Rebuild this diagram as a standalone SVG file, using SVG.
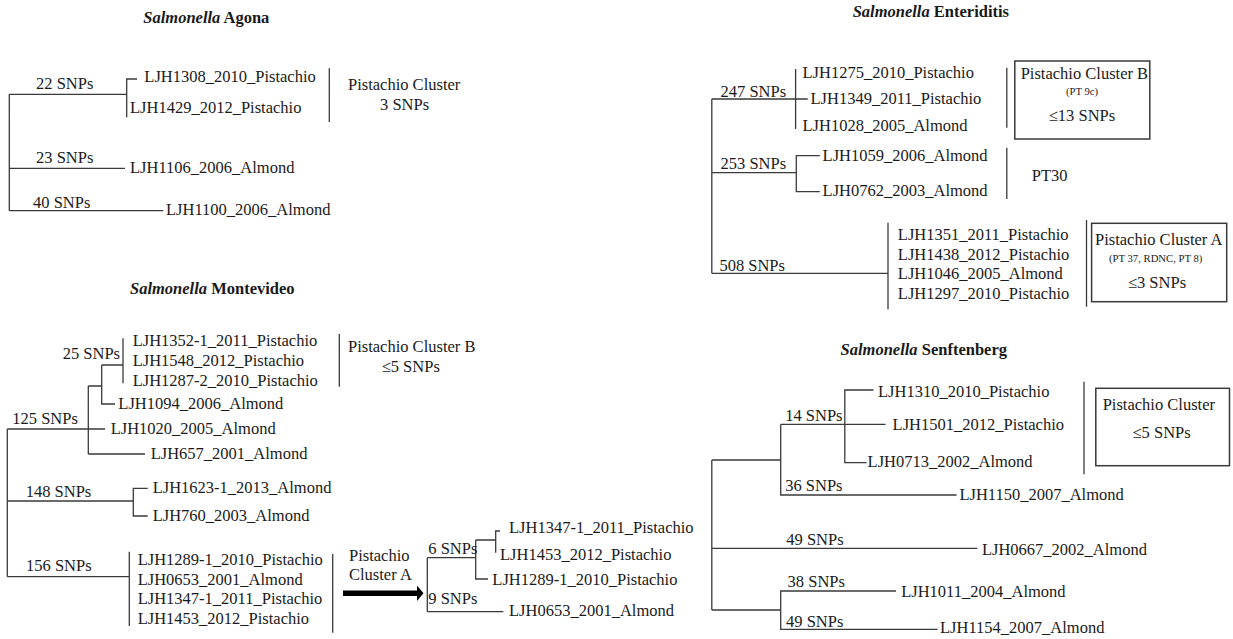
<svg xmlns="http://www.w3.org/2000/svg" width="1233" height="639" viewBox="0 0 1233 639">
<style>
.t{font-family:"Liberation Serif","Times New Roman",serif;font-size:16.5px;fill:#1a1a1a}
.b{font-weight:bold}
.i{font-style:italic}
.sm{font-size:10.7px}
.m{text-anchor:middle}
.ln{stroke:#3a3a3a;stroke-width:1.3;fill:none}
.box{fill:none;stroke:#3a3a3a;stroke-width:1.5}
</style>
<rect width="1233" height="639" fill="#ffffff"/>

<g id="connectors">
  <!-- Agona -->
  <path class="ln" d="M9.3,94.3 V210.7 M9.3,94.3 H126.7 M137,79 H126.7 V117.3 M9.3,168.3 H125 M9.3,210.7 H163.3"/>
  <path class="ln" d="M329.3,68.3 V122"/>
  <!-- Montevideo -->
  <path class="ln" d="M7.3,429 V576.7 M7.3,429 H105 M88.3,386 V454 M88.3,386 H101.7 M101.7,365 V404 H115 M101.7,365 H123 M123,338.3 V383.3 M88.3,454 H145 M7.3,501 H133.3 M147.7,488.3 H133.3 V516 H147.7 M7.3,576.7 H129.3 M129.3,551.7 V626"/>
  <path class="ln" d="M339.3,334 V386.7 M332.7,554 V632.7"/>
  <path class="ln" d="M427.3,557.7 V611.7 M427.3,557.7 H475.7 M475.7,540 V579 H488 M475.7,540 H495.7 M500,531 H495.7 V552.7 M427.3,611.7 H503.3"/>
  <polygon id="arrow" points="343,590.5 417,590.5 417,585.5 423.5,593.3 417,601 417,596 343,596" fill="#000"/>
  <!-- Enteriditis -->
  <path class="ln" d="M711.8,99 V273.3 M711.8,99 H807.7 M795.6,69 V129 M711.8,172.7 H796.3 M819.8,155.7 H796.3 V191.7 H819.8 M711.8,273.3 H888 M888,222.7 V309.3"/>
  <path class="ln" d="M1006.8,67.7 V127.7 M1006.8,147.7 V199 M1086.5,220 V306.7"/>
  <!-- Senftenberg -->
  <path class="ln" d="M711.8,460 V610 M711.8,460 H780.7 M780.7,424.3 V495 H956.6 M780.7,424.3 H885.6 M873.5,390 H844.8 V462.7 H866.6 M711.8,548.3 H977.4 M711.8,610 H780.7 M896,591 H780.7 V629.3 H937.6"/>
  <path class="ln" d="M1084,381.7 V474.3"/>
</g>

<g id="titles">
  <text class="t b" x="143.3" y="23.3"><tspan class="i">Salmonella</tspan> Agona</text>
  <text class="t b" x="130" y="294"><tspan class="i">Salmonella</tspan> Montevideo</text>
  <text class="t b" x="852.7" y="16.5"><tspan class="i">Salmonella</tspan> Enteriditis</text>
  <text class="t b" x="840.6" y="355"><tspan class="i">Salmonella</tspan> Senftenberg</text>
</g>

<g id="agona">
  <text class="t" x="36" y="89.3">22 SNPs</text>
  <text class="t" x="36" y="163.3">23 SNPs</text>
  <text class="t" x="33" y="208">40 SNPs</text>
  <g id="ag-LJH1308"><text class="t" x="144.3" y="82">LJH1308_2010_Pistachio</text></g>
  <g id="ag-LJH1429"><text class="t" x="130" y="112.7">LJH1429_2012_Pistachio</text></g>
  <g id="ag-LJH1106"><text class="t" x="130" y="173.3">LJH1106_2006_Almond</text></g>
  <g id="ag-LJH1100"><text class="t" x="166" y="215">LJH1100_2006_Almond</text></g>
  <g id="ag-cluster"><text class="t" x="348" y="90">Pistachio Cluster</text><text class="t" x="380" y="110">3 SNPs</text></g>
</g>

<g id="montevideo">
  <text class="t" x="62.7" y="359.3">25 SNPs</text>
  <text class="t" x="12.3" y="424">125 SNPs</text>
  <text class="t" x="25.7" y="496.7">148 SNPs</text>
  <text class="t" x="26" y="571">156 SNPs</text>
  <g id="mv-LJH1352-1"><text class="t" x="132.7" y="346">LJH1352-1_2011_Pistachio</text></g>
  <g id="mv-LJH1548"><text class="t" x="132.7" y="366.2">LJH1548_2012_Pistachio</text></g>
  <g id="mv-LJH1287-2"><text class="t" x="132.7" y="385.5">LJH1287-2_2010_Pistachio</text></g>
  <g id="mv-LJH1094"><text class="t" x="118.3" y="409.3">LJH1094_2006_Almond</text></g>
  <g id="mv-LJH1020"><text class="t" x="110.7" y="434.3">LJH1020_2005_Almond</text></g>
  <g id="mv-LJH657"><text class="t" x="150.7" y="459">LJH657_2001_Almond</text></g>
  <g id="mv-LJH1623-1"><text class="t" x="152.7" y="493.3">LJH1623-1_2013_Almond</text></g>
  <g id="mv-LJH760"><text class="t" x="152.7" y="520.7">LJH760_2003_Almond</text></g>
  <g id="mv-groupA">
    <text class="t" x="137.7" y="565">LJH1289-1_2010_Pistachio</text>
    <text class="t" x="137.7" y="585">LJH0653_2001_Almond</text>
    <text class="t" x="137.7" y="604.3">LJH1347-1_2011_Pistachio</text>
    <text class="t" x="137.7" y="624">LJH1453_2012_Pistachio</text>
  </g>
  <g id="mv-clusterB"><text class="t" x="348" y="352">Pistachio Cluster B</text><text class="t" x="381.7" y="372">≤5 SNPs</text></g>
  <g id="mv-clusterA-label"><text class="t" x="349" y="560.5">Pistachio</text><text class="t" x="349" y="579.5">Cluster A</text></g>
  <text class="t" x="428.3" y="554">6 SNPs</text>
  <text class="t" x="428.3" y="604">9 SNPs</text>
  <g id="mvA-LJH1347-1"><text class="t" x="509" y="533.3">LJH1347-1_2011_Pistachio</text></g>
  <g id="mvA-LJH1453"><text class="t" x="500" y="560">LJH1453_2012_Pistachio</text></g>
  <g id="mvA-LJH1289-1"><text class="t" x="492.3" y="585">LJH1289-1_2010_Pistachio</text></g>
  <g id="mvA-LJH0653"><text class="t" x="509" y="616">LJH0653_2001_Almond</text></g>
</g>

<g id="enteriditis">
  <text class="t" x="720.5" y="97">247 SNPs</text>
  <text class="t" x="720.5" y="169">253 SNPs</text>
  <text class="t" x="719.4" y="270.5">508 SNPs</text>
  <g id="en-LJH1275"><text class="t" x="802.5" y="78">LJH1275_2010_Pistachio</text></g>
  <g id="en-LJH1349"><text class="t" x="810.5" y="104.3">LJH1349_2011_Pistachio</text></g>
  <g id="en-LJH1028"><text class="t" x="802.5" y="131">LJH1028_2005_Almond</text></g>
  <g id="en-LJH1059"><text class="t" x="822.6" y="160.5">LJH1059_2006_Almond</text></g>
  <g id="en-LJH0762"><text class="t" x="822.6" y="195.7">LJH0762_2003_Almond</text></g>
  <g id="en-groupA">
    <text class="t" x="897.8" y="240">LJH1351_2011_Pistachio</text>
    <text class="t" x="897.8" y="259.5">LJH1438_2012_Pistachio</text>
    <text class="t" x="897.8" y="279">LJH1046_2005_Almond</text>
    <text class="t" x="897.8" y="298.8">LJH1297_2010_Pistachio</text>
  </g>
  <g id="en-clusterB">
    <rect class="box" x="1014.8" y="61" width="135" height="78"/>
    <text class="t" x="1020.7" y="79">Pistachio Cluster B</text>
    <text class="t sm m" x="1082" y="94.5">(PT 9c)</text>
    <text class="t m" x="1082" y="121">≤13 SNPs</text>
  </g>
  <g id="en-PT30"><text class="t" x="1031.8" y="181">PT30</text></g>
  <g id="en-clusterA">
    <rect class="box" x="1091.6" y="223.3" width="135.1" height="78.4"/>
    <text class="t" x="1095" y="245">Pistachio Cluster A</text>
    <text class="t sm m" x="1155.7" y="262">(PT 37, RDNC, PT 8)</text>
    <text class="t m" x="1157" y="288">≤3 SNPs</text>
  </g>
</g>

<g id="senftenberg">
  <text class="t" x="785.2" y="420.7">14 SNPs</text>
  <text class="t" x="785.2" y="491">36 SNPs</text>
  <text class="t" x="786.3" y="545">49 SNPs</text>
  <text class="t" x="787.6" y="587.3">38 SNPs</text>
  <text class="t" x="786" y="626.7">49 SNPs</text>
  <g id="se-LJH1310"><text class="t" x="878" y="396.7">LJH1310_2010_Pistachio</text></g>
  <g id="se-LJH1501"><text class="t" x="892.6" y="430">LJH1501_2012_Pistachio</text></g>
  <g id="se-LJH0713"><text class="t" x="867.6" y="466.7">LJH0713_2002_Almond</text></g>
  <g id="se-LJH1150"><text class="t" x="959.4" y="500">LJH1150_2007_Almond</text></g>
  <g id="se-LJH0667"><text class="t" x="981.9" y="554.5">LJH0667_2002_Almond</text></g>
  <g id="se-LJH1011"><text class="t" x="901.2" y="596.5">LJH1011_2004_Almond</text></g>
  <g id="se-LJH1154"><text class="t" x="940" y="633.3">LJH1154_2007_Almond</text></g>
  <g id="se-cluster">
    <rect class="box" x="1095.8" y="388.3" width="133.7" height="77.4"/>
    <text class="t" x="1102.7" y="410">Pistachio Cluster</text>
    <text class="t m" x="1161.6" y="438.3">≤5 SNPs</text>
  </g>
</g>
</svg>
